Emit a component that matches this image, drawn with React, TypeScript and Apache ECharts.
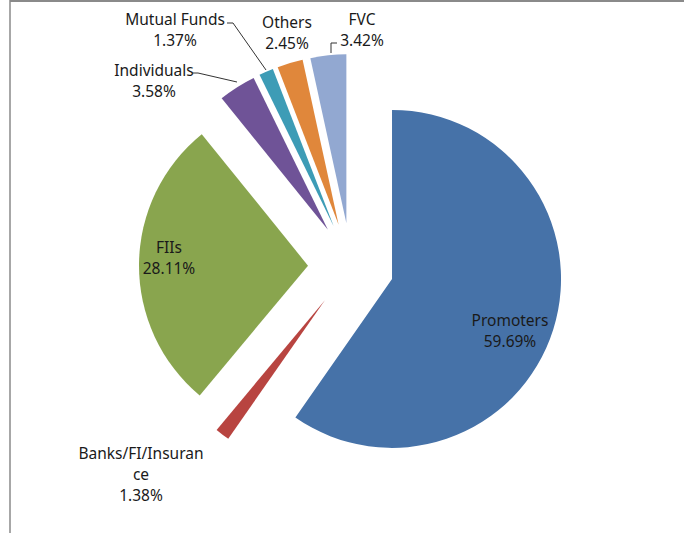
import React, { useEffect, useRef } from "react";
import * as echarts from "echarts";

const categories = ["Promoters", "Banks/FI/Insurance", "FIIs", "Individuals", "Mutual Funds", "Others", "FVC"];
const labelNames = ["Promoters", "Banks/FI/Insuran\nce", "FIIs", "Individuals", "Mutual Funds", "Others", "FVC"];
const values = [59.69, 1.38, 28.11, 3.58, 1.37, 2.45, 3.42];
const colors = ["#4672A8", "#B84440", "#89A54E", "#6F5397", "#3D9CB6", "#E0873B", "#92A8D1"];

// label placement (layout only)
const labelPos: [number, number][] = [
  [510, 330],
  [141, 474],
  [169, 257],
  [154, 80],
  [175, 29],
  [287, 32],
  [362, 29],
];
const leaderLines: ([number, number][] | null)[] = [
  null,
  null,
  null,
  [[237, 82], [198, 73], [192, 73]],
  [[266, 70], [233, 23], [227, 23]],
  null,
  [[331, 53], [331, 43], [337, 43]],
];

export default function App() {
  const ref = useRef<HTMLDivElement>(null);
  useEffect(() => {
    if (!ref.current) return;
    const chart = echarts.init(ref.current, undefined, { renderer: "svg" });
    const labelTexts = categories.map((_, i) => ({
      type: "text",
      x: labelPos[i][0],
      y: labelPos[i][1],
      z: 10,
      style: {
        text: `${labelNames[i]}\n${values[i].toFixed(2)}%`,
        fill: "#1a1a1a",
        fontFamily: "Noto Sans",
        fontSize: 15.5,
        lineHeight: 21,
        align: "center",
        verticalAlign: "middle",
      },
    }));
    const lines = leaderLines
      .filter((l) => l)
      .map((pts) => ({
        type: "polyline",
        z: 10,
        shape: { points: pts },
        style: { stroke: "#333333", lineWidth: 1, fill: null },
      }));
    chart.setOption({
      animation: false,
      backgroundColor: "#ffffff",
      graphic: [
        { type: "line", shape: { x1: 10, y1: 1, x2: 684, y2: 1 }, style: { stroke: "#8a8a8a", lineWidth: 2 } },
        { type: "line", shape: { x1: 10, y1: 0, x2: 10, y2: 533 }, style: { stroke: "#8a8a8a", lineWidth: 1.5 } },
        ...labelTexts,
        ...lines,
      ],
      series: [
        {
          type: "pie",
          center: [351, 266],
          radius: 169,
          startAngle: 90,
          clockwise: true,
          selectedMode: "multiple",
          selectedOffset: 43,
          emphasis: { disabled: true },
          label: { show: false },
          labelLine: { show: false },
          data: categories.map((name, i) => ({
            name,
            value: values[i],
            selected: true,
            itemStyle: { color: colors[i] },
          })),
        },
      ],
    });
    return () => chart.dispose();
  }, []);
  return <div ref={ref} style={{ position: "fixed", left: 0, top: 0, width: 684, height: 533 }} />;
}
